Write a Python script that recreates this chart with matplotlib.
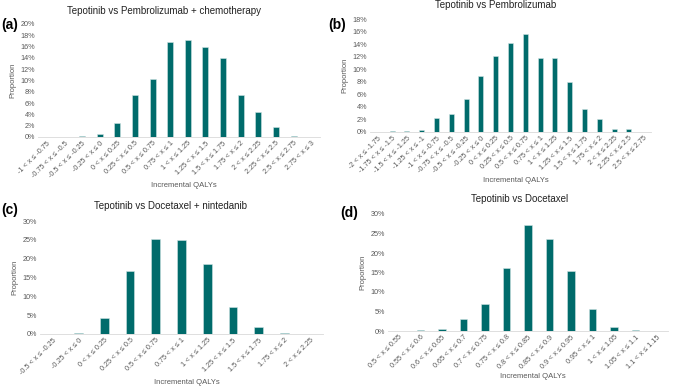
import matplotlib
matplotlib.use("Agg")
import matplotlib.pyplot as plt
from matplotlib.ticker import PercentFormatter

plt.rcParams['font.family'] = ['Liberation Sans', 'DejaVu Sans']

# (a) Tepotinib vs Pembrolizumab + chemotherapy
labels_a = ["-1 < x ≤ -0.75", "-0.75 < x ≤ -0.5", "-0.5 < x ≤ -0.25", "-0.25 < x ≤ 0",
            "0 < x ≤ 0.25", "0.25 < x ≤ 0.5", "0.5 < x ≤ 0.75", "0.75 < x ≤ 1",
            "1 < x ≤ 1.25", "1.25 < x ≤ 1.5", "1.5 < x ≤ 1.75", "1.75 < x ≤ 2",
            "2 < x ≤ 2.25", "2.25 < x ≤ 2.5", "2.5 < x ≤ 2.75", "2.75 < x ≤ 3"]
values_a = [0, 0, 0.25, 0.45, 2.5, 7.5, 10.3, 16.9, 17.1, 15.9, 13.9, 7.5, 4.4, 1.8, 0.2, 0]

# (b) Tepotinib vs Pembrolizumab
labels_b = ["-2 < x ≤ -1.75", "-1.75 < x ≤ -1.5", "-1.5 < x ≤ -1.25", "-1.25 < x ≤ -1",
            "-1 < x ≤ -0.75", "-0.75 < x ≤ -0.5", "-0.5 < x ≤ -0.25", "-0.25 < x ≤ 0",
            "0 < x ≤ 0.25", "0.25 < x ≤ 0.5", "0.5 < x ≤ 0.75", "0.75 < x ≤ 1",
            "1 < x ≤ 1.25", "1.25 < x ≤ 1.5", "1.5 < x ≤ 1.75", "1.75 < x ≤ 2",
            "2 < x ≤ 2.25", "2.25 < x ≤ 2.5", "2.5 < x ≤ 2.75"]
values_b = [0, 0.15, 0.1, 0.25, 2.2, 2.9, 5.3, 9.0, 12.1, 14.1, 15.6, 11.8, 11.8,
            7.9, 3.6, 2.0, 0.5, 0.5, 0]

# (c) Tepotinib vs Docetaxel + nintedanib
labels_c = ["-0.5 < x ≤ -0.25", "-0.25 < x ≤ 0", "0 < x ≤ 0.25", "0.25 < x ≤ 0.5",
            "0.5 < x ≤ 0.75", "0.75 < x ≤ 1", "1 < x ≤ 1.25", "1.25 < x ≤ 1.5",
            "1.5 < x ≤ 1.75", "1.75 < x ≤ 2", "2 < x ≤ 2.25"]
values_c = [0, 0.3, 4.2, 16.7, 25.1, 25.0, 18.6, 7.1, 1.9, 0.3, 0]

# (d) Tepotinib vs Docetaxel
labels_d = ["0.5 < x ≤ 0.55", "0.55 < x ≤ 0.6", "0.6 < x ≤ 0.65", "0.65 < x ≤ 0.7",
            "0.7 < x ≤ 0.75", "0.75 < x ≤ 0.8", "0.8 < x ≤ 0.85", "0.85 < x ≤ 0.9",
            "0.9 < x ≤ 0.95", "0.95 < x ≤ 1", "1 < x ≤ 1.05", "1.05 < x ≤ 1.1",
            "1.1 < x ≤ 1.15"]
values_d = [0, 0.2, 0.45, 3.2, 6.9, 16.1, 27.3, 23.6, 15.3, 5.6, 0.9, 0.3, 0]

W, H = 676, 386
fig = plt.figure(figsize=(W / 100, H / 100), dpi=100)
BAR = "#006b6b"
GRAY = "#595959"


def panel(px, labels, values, ymax, ystep, title, tag, title_x, title_y, tag_xy, xlab_y):
    x0, y0, x1, y1 = px
    ax = fig.add_axes([x0 / W, 1 - y1 / H, (x1 - x0) / W, (y1 - y0) / H])
    pos = list(range(len(labels)))
    ax.bar(pos, values, width=0.34, color=BAR, edgecolor="#cfe3e3", linewidth=0.4)
    ax.set_xlim(-0.5, len(labels) - 0.5)
    ax.set_ylim(0, ymax)
    ax.set_yticks(range(0, ymax + 1, ystep))
    ax.yaxis.set_major_formatter(PercentFormatter(decimals=0))
    ax.set_xticks(pos)
    ax.set_xticklabels(labels, rotation=45, ha="right", rotation_mode="anchor")
    ax.tick_params(axis="both", length=0, labelsize=5.2, colors=GRAY, pad=2)
    for s in ["top", "right", "left"]:
        ax.spines[s].set_visible(False)
    ax.spines["bottom"].set_color("#d9d9d9")
    ax.spines["bottom"].set_linewidth(0.6)
    ax.set_ylabel("Proportion", fontsize=5.5, color=GRAY, labelpad=3)
    fig.text(((x0 + x1) / 2 + 5) / W, 1 - xlab_y / H, "Incremental QALYs",
             fontsize=5.5, color=GRAY, ha="center", va="center")
    fig.text(title_x / W, 1 - title_y / H, title, fontsize=7.0, color="#222222",
             ha="center", va="center")
    fig.text(tag_xy[0] / W, 1 - tag_xy[1] / H, tag, fontsize=10, fontweight="bold",
             ha="left", va="center")
    return ax


panel((38, 24, 320, 137), labels_a, values_a, 20, 2,
      "Tepotinib vs Pembrolizumab + chemotherapy", "(a)", 164, 11, (1, 25), 186)
panel((370, 19, 651, 132), labels_b, values_b, 18, 2,
      "Tepotinib vs Pembrolizumab", "(b)", 496, 5, (328, 25), 180)
panel((40, 221, 323, 334), labels_c, values_c, 30, 5,
      "Tepotinib vs Docetaxel + nintedanib", "(c)", 170, 206, (1, 210), 383)
panel((388, 214, 668, 331), labels_d, values_d, 30, 5,
      "Tepotinib vs Docetaxel", "(d)", 520, 199, (340, 213), 376)

fig.savefig("out.png", dpi=100)
